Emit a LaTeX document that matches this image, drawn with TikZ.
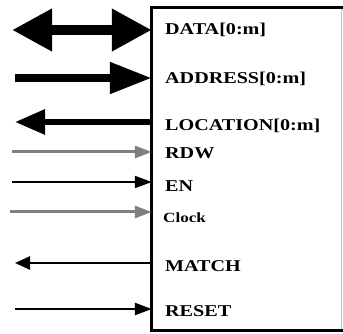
\documentclass[tikz,border=0pt]{standalone}
\usepackage{fontspec}
\setmainfont{Liberation Serif}
\newfontfamily\pinfont{Liberation Serif}[FakeStretch=1.22]
\usetikzlibrary{arrows.meta}
\begin{document}
\begin{tikzpicture}[x=1pt,y=1pt,
  pin/.style={font=\pinfont\bfseries\fontsize{16.5}{16.5}\selectfont, anchor=base west, inner sep=0pt},
  bus/.style={line width=#1, line cap=butt},
]
\useasboundingbox (0,0) rectangle (343,334);
% block body
\node[minimum width=189pt, minimum height=322pt, inner sep=0pt, fill=white] (blk) at (246.5,165) {};
\draw[gray!45, line width=1.2pt] (blk.north east) -- (blk.south east);
\draw[line width=2.8pt, line cap=rect] (blk.north east) -- (blk.north west) -- (blk.south west) -- (blk.south east);

% free ends of the signal lines
\coordinate (dataL) at (12,304);
\coordinate (addrL) at (15,256);
\coordinate (locL) at (15,212);
\coordinate (rdwL) at (12,182);
\coordinate (enL) at (12,152);
\coordinate (clkL) at (10,122);
\coordinate (matchL) at (15,71);
\coordinate (resetL) at (15,25);

% pin labels
\node[pin] (dataT) at (165,299) {DATA[0:m]};
\node[pin] (addrT) at (165,250) {ADDRESS[0:m]};
\node[pin] (locT) at (165,203) {LOCATION[0:m]};
\node[pin] (rdwT) at (165,175) {RDW};
\node[pin] (enT) at (165,142) {EN};
\node[pin, font=\pinfont\bfseries\fontsize{14}{14}\selectfont] (clkT) at (163,111) {Clock};
\node[pin] (matchT) at (165,62) {MATCH};
\node[pin] (resetT) at (165,17) {RESET};

% signal lines
\draw[bus=10pt, {Triangle[length=40pt,width=40pt]}-{Triangle[length=40pt,width=40pt]}] (dataL) -- (blk.west |- dataL);
\draw[bus=8pt, -{Triangle[length=42pt,width=30pt]}] (addrL) -- (blk.west |- addrL);
\draw[bus=6pt, {Triangle[length=30pt,width=24pt]}-] (locL) -- (blk.west |- locL);
\draw[bus=3pt, gray, -{Triangle[length=17pt,width=12pt]}] (rdwL) -- (blk.west |- rdwL);
\draw[bus=2pt, -{Triangle[length=17pt,width=12pt]}] (enL) -- (blk.west |- enL);
\draw[bus=3pt, gray, -{Triangle[length=17pt,width=12pt]}] (clkL) -- (blk.west |- clkL);
\draw[bus=2.5pt, {Triangle[length=15pt,width=13pt]}-] (matchL) -- (blk.west |- matchL);
\draw[bus=2.5pt, -{Triangle[length=17pt,width=12pt]}] (resetL) -- (blk.west |- resetL);
\end{tikzpicture}
\end{document}
